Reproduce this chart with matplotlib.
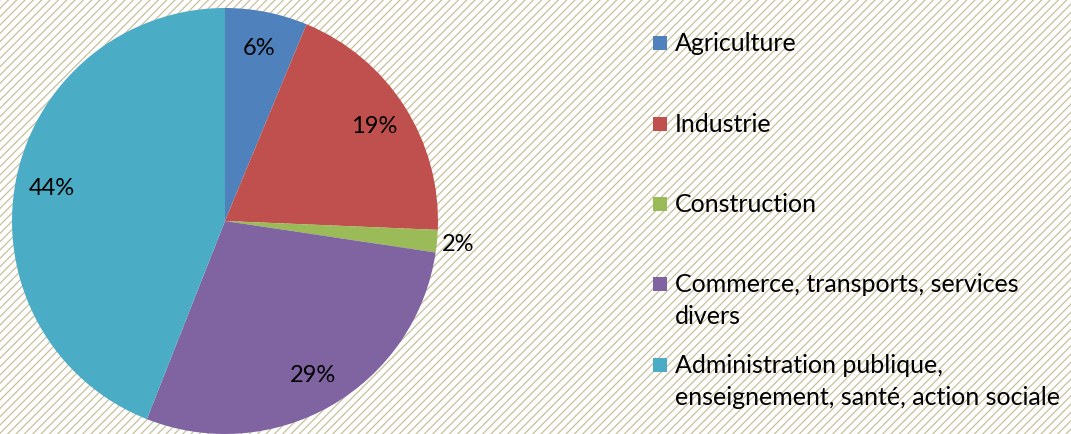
import matplotlib
matplotlib.use('Agg')
import matplotlib.pyplot as plt
from matplotlib.patches import Rectangle

# data
categories = ['Agriculture', 'Industrie', 'Construction',
              'Commerce, transports, services\ndivers',
              'Administration publique,\nenseignement, santé, action sociale']
shares = [6.25, 19.4, 1.7, 28.6, 44.0]
colors = ['#4F81BD', '#C0504D', '#9BBB59', '#8064A2', '#4BACC6']

plt.rcParams['font.family'] = ['Lato', 'DejaVu Sans']
plt.rcParams['hatch.linewidth'] = 0.9

W, H = 1071, 435
fig = plt.figure(figsize=(W / 100, H / 100), dpi=100)

# hatched background
fig.patch.set_facecolor('white')
bg = fig.add_axes([0, 0, 1, 1])
bg.set_axis_off()
bg.add_patch(Rectangle((0, 0), 1, 1, transform=bg.transAxes, facecolor='white',
                       edgecolor='#C8C09C', hatch='////', linewidth=0))

# pie
cx, cy, r = 225, 222, 213
ax = fig.add_axes([(cx - r) / W, (H - cy - r) / H, 2 * r / W, 2 * r / H])
ax.set_axis_off()
wedges, texts, autotexts = ax.pie(shares, colors=colors, startangle=90, counterclock=False,
                                  autopct='%.0f%%', pctdistance=0.83,
                                  wedgeprops=dict(linewidth=0),
                                  textprops=dict(fontsize=17, color='black'))
ax.set_xlim(-1, 1)
ax.set_ylim(-1, 1)
ax.set_aspect('equal')

# small slice label outside
x, y = autotexts[2].get_position()
autotexts[2].set_position((x / 0.83 * 1.1, y / 0.83 * 1.1))

# legend drawn by hand
legend_y = [44, 125, 205, 285, 366]
for lab, col, ly in zip(categories, colors, legend_y):
    fig.add_artist(Rectangle((653 / W, 1 - (ly + 7) / H), 14 / W, 14 / H,
                             facecolor=col, edgecolor='none', transform=fig.transFigure))
    fig.text(675 / W, 1 - (ly - 12) / H, lab, fontsize=18, va='top', ha='left',
             color='black', linespacing=1.5)

fig.savefig('out.png', dpi=100)
